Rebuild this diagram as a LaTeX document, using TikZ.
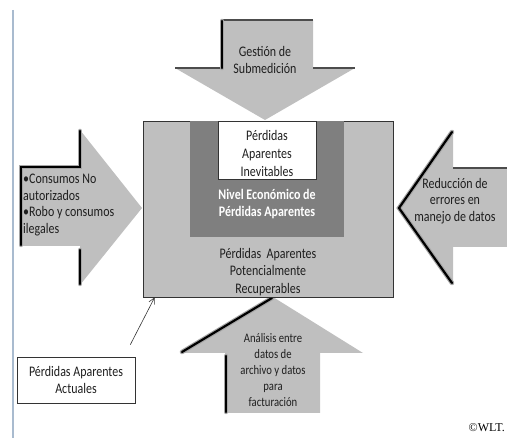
\documentclass[tikz,border=0pt]{standalone}
\usepackage{fontspec}
\setmainfont[FakeStretch=0.82]{Carlito}
\newfontfamily\wltfont{Liberation Serif}
\usetikzlibrary{arrows.meta,calc}
\definecolor{lg}{HTML}{BFBFBF}
\definecolor{dg}{HTML}{7F7F7F}
\definecolor{rulec}{HTML}{A9BBCF}
\definecolor{txtc}{HTML}{1F1F1F}
\begin{document}
\begin{tikzpicture}[x=1pt,y=-1pt,
  shapefill/.style={fill=lg, draw=none},
  hardedge/.style={line width=2.2pt, black, line cap=round},
  halo/.style={line width=4.5pt, black!35, line cap=round},
  softedge/.style={line width=1.2pt, black!70},
  txt/.style={font=\fontsize{14.6}{16.5}\selectfont, align=center, text=txtc, inner sep=0pt},
  smalltxt/.style={font=\fontsize{13}{16}\selectfont, align=center, text=txtc, inner sep=0pt},
  boxc/.style={rectangle, inner sep=0pt, draw=black!80, line width=0.6pt}]

\useasboundingbox (0,0) rectangle (507,438);
\draw[rulec, line width=1.5pt] (13,10) -- (13,438);

% top arrow
\fill[shapefill] (222,20) -- (313,20) -- (313,68) -- (355,68) -- (265,120) -- (175,68) -- (222,68) -- cycle;
\draw[softedge] (175,68) -- (222,68);
\draw[softedge] (313,68) -- (355,68);
\draw[softedge] (222,20) -- (313,20);
\draw[halo] (222,21) -- (222,68);
\draw[hardedge] (222,21) -- (222,68);

% left arrow
\fill[shapefill] (20,167) -- (80,167) -- (80,130) -- (142,208) -- (80,285) -- (80,246) -- (20,246) -- cycle;
\draw[halo] (80,131) -- (80,167) -- (21,167) -- (21,245);
\draw[halo] (80,250) -- (80,284);
\draw[hardedge] (80,131) -- (80,167) -- (21,167) -- (21,245);
\draw[hardedge] (80,250) -- (80,284);

% right arrow
\fill[shapefill] (507,168) -- (453,168) -- (453,130) -- (398,208) -- (453,285) -- (453,247) -- (507,247) -- cycle;
\draw[halo] (452,132) -- (399,208) -- (452,283);
\draw[hardedge] (452,132) -- (399,208) -- (452,283);
\draw[softedge] (453,168) -- (507,168);

% bottom arrow
\fill[shapefill] (273,297) -- (363,353) -- (320,353) -- (320,413) -- (225,413) -- (225,353) -- (180,353) -- cycle;
\draw[halo] (182,352) -- (272,298);
\draw[halo] (226,356) -- (226,412);
\draw[hardedge] (182,352) -- (272,298);
\draw[hardedge] (226,356) -- (226,412);

% central boxes
\node[boxc, fill=lg, minimum width=250pt, minimum height=176pt] (big) at (268,209) {};
\node[rectangle, inner sep=0pt, fill=dg, minimum width=154pt, minimum height=116pt] (dark) at (267,179) {};
\node[boxc, fill=white, minimum width=98pt, minimum height=58pt] (wbox) at (267,150) {};
\node[txt, font=\fontsize{14.6}{18}\selectfont] (wtext) at (267,153) {P\'erdidas\\Aparentes\\Inevitables};
\node[txt, font=\fontsize{14.6}{17}\selectfont\bfseries, text=white] (dtext) at (267,204) {Nivel Econ\'omico de\\P\'erdidas Aparentes};
\node[txt, font=\fontsize{14.6}{17.5}\selectfont] (btext) at (268,272) {P\'erdidas\ \ Aparentes\\Potencialmente\\Recuperables};

% arrow texts
\node[txt] (ttext) at (265,60) {Gesti\'on de\\Submedici\'on};
\node[txt, align=left, anchor=west, font=\fontsize{14.6}{16.7}\selectfont] (ltext) at (23,205) {\textbullet Consumos No\\autorizados\\\textbullet Robo y consumos\\ilegales};
\node[txt] (rtext) at (455,201) {Reducci\'on de\\errores en\\manejo de datos};
\node[smalltxt] (btxt) at (273,370) {An\'alisis entre\\datos de\\archivo y datos\\para\\facturaci\'on};

% label box
\node[boxc, fill=white, minimum width=118pt, minimum height=46pt] (act) at (76,380) {};
\node[txt] (acttext) at (76,380) {P\'erdidas Aparentes\\Actuales};
\coordinate (lblstart) at ($(act.north east)+(-5,-12)$);
\draw[black!80, line width=0.6pt, -{Straight Barb[length=6pt,width=6pt]}] (lblstart) -- ($(big.south west)+(12,0)$);

\node[font=\wltfont\fontsize{12}{14}\selectfont, anchor=east, inner sep=0pt] (wlt) at (505,428) {\textcopyright WLT.};
\end{tikzpicture}
\end{document}
